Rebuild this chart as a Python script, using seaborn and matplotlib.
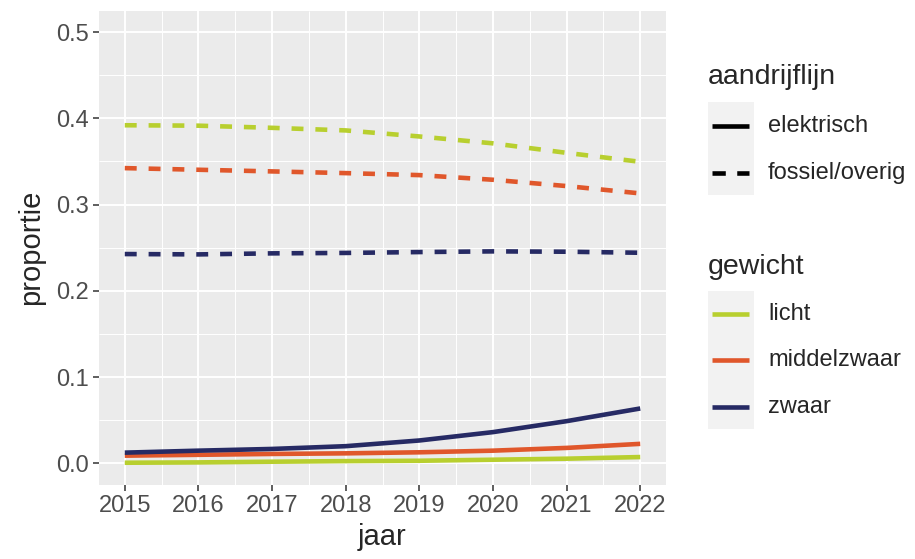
#!/usr/bin/env python3
"""Proportie voertuigen per gewichtsklasse en aandrijflijn, 2015-2022."""

import matplotlib.pyplot as plt
import pandas as pd
import seaborn as sns
from matplotlib.lines import Line2D
from matplotlib.patches import Rectangle
from matplotlib.ticker import MultipleLocator

# data
jaren = [2015, 2016, 2017, 2018, 2019, 2020, 2021, 2022]
gewichten = ["licht", "middelzwaar", "zwaar"]
aandrijflijnen = ["elektrisch", "fossiel/overig"]

licht_elektrisch = [0.0008, 0.0012, 0.0020, 0.0027, 0.0031, 0.0043, 0.0055, 0.0074]
middel_elektrisch = [0.0090, 0.0100, 0.0110, 0.0117, 0.0129, 0.0148, 0.0180, 0.0227]
zwaar_elektrisch = [0.0125, 0.0148, 0.0168, 0.0200, 0.0266, 0.0363, 0.0490, 0.0637]

licht_fossiel = [0.392, 0.3915, 0.389, 0.386, 0.379, 0.371, 0.360, 0.3496]
middel_fossiel = [0.3423, 0.3404, 0.3385, 0.3365, 0.3342, 0.3288, 0.3215, 0.3130]
zwaar_fossiel = [0.2427, 0.2423, 0.2435, 0.2440, 0.2450, 0.2458, 0.2454, 0.2442]

kleuren = {"licht": "#b8cf2f", "middelzwaar": "#e0572b", "zwaar": "#262a64"}

W, H = 915, 559


def fx(x):
    return x / W


def fy(y):
    return 1 - y / H


def build_frame() -> pd.DataFrame:
    series = {
        ("licht", "elektrisch"): licht_elektrisch,
        ("middelzwaar", "elektrisch"): middel_elektrisch,
        ("zwaar", "elektrisch"): zwaar_elektrisch,
        ("licht", "fossiel/overig"): licht_fossiel,
        ("middelzwaar", "fossiel/overig"): middel_fossiel,
        ("zwaar", "fossiel/overig"): zwaar_fossiel,
    }
    rows = []
    for (gew, aan), vals in series.items():
        for jaar, v in zip(jaren, vals):
            rows.append({"jaar": jaar, "proportie": v, "gewicht": gew, "aandrijflijn": aan})
    return pd.DataFrame(rows)


def main():
    df = build_frame()

    sns.set_theme(style="darkgrid")
    sns.set_style({
        "axes.facecolor": "#ebebeb",
        "grid.color": "white",
        "axes.edgecolor": "#ebebeb",
    })
    plt.rcParams["font.family"] = ["Liberation Sans", "DejaVu Sans"]
    plt.rcParams["lines.solid_capstyle"] = "butt"
    plt.rcParams["lines.dash_capstyle"] = "butt"

    fig = plt.figure(figsize=(W / 100, H / 100), dpi=100)
    ax = fig.add_axes([fx(99), fy(485), fx(666) - fx(99), fy(10.5) - fy(485)])

    sns.lineplot(
        data=df, x="jaar", y="proportie",
        hue="gewicht", hue_order=gewichten, palette=kleuren,
        style="aandrijflijn", style_order=aandrijflijnen,
        dashes={"elektrisch": "", "fossiel/overig": (2.6, 2.6)},
        linewidth=3.3, errorbar=None, legend=False, ax=ax,
    )

    ax.set_xlim(2015 - 0.35, 2022 + 0.35)
    ax.set_ylim(-0.025, 0.525)
    ax.xaxis.set_major_locator(MultipleLocator(1))
    ax.xaxis.set_minor_locator(MultipleLocator(0.5))
    ax.yaxis.set_major_locator(MultipleLocator(0.1))
    ax.yaxis.set_minor_locator(MultipleLocator(0.05))
    ax.set_yticks([0.0, 0.1, 0.2, 0.3, 0.4, 0.5])
    ax.set_yticklabels(["0.0", "0.1", "0.2", "0.3", "0.4", "0.5"])
    ax.grid(which="major", color="white", linewidth=1.4)
    ax.grid(which="minor", color="white", linewidth=0.7)
    ax.set_axisbelow(True)
    ax.tick_params(which="major", length=4.5, width=1.1, color="#333333",
                   labelsize=17, labelcolor="#4d4d4d", pad=3)
    ax.tick_params(which="minor", length=0)
    ax.tick_params(axis="x", bottom=True)
    ax.tick_params(axis="y", left=True)
    for s in ax.spines.values():
        s.set_visible(False)
    ax.set_xlabel("jaar", fontsize=21, labelpad=4)
    ax.set_ylabel("proportie", fontsize=21, labelpad=8)

    # legends, drawn by hand in ggplot style
    def key_box(y0, y1):
        fig.patches.append(Rectangle((fx(708), fy(y1)), fx(754) - fx(708), fy(y0) - fy(y1),
                                     transform=fig.transFigure, facecolor="#f2f2f2",
                                     edgecolor="none"))

    def key_line(y, color, dashed):
        ln = Line2D([fx(712), fx(749)], [fy(y), fy(y)], transform=fig.transFigure,
                    color=color, linewidth=3.3,
                    linestyle=(0, (2.9, 2.5)) if dashed else "-")
        fig.lines.append(ln)

    fig.text(fx(708), fy(77), "aandrijflijn", fontsize=20.5, va="center", ha="left")
    key_box(102, 195)
    for y, naam, dashed in [(126, "elektrisch", False), (173, "fossiel/overig", True)]:
        key_line(y, "black", dashed)
        fig.text(fx(768), fy(y), naam, fontsize=17, va="center", ha="left")

    fig.text(fx(708), fy(267), "gewicht", fontsize=20.5, va="center", ha="left")
    key_box(291, 429)
    for y, naam in zip([314, 360, 407], gewichten):
        key_line(y, kleuren[naam], False)
        fig.text(fx(768), fy(y), naam, fontsize=17, va="center", ha="left")

    fig.savefig("out.png", dpi=100)
    plt.close(fig)


if __name__ == "__main__":
    main()
